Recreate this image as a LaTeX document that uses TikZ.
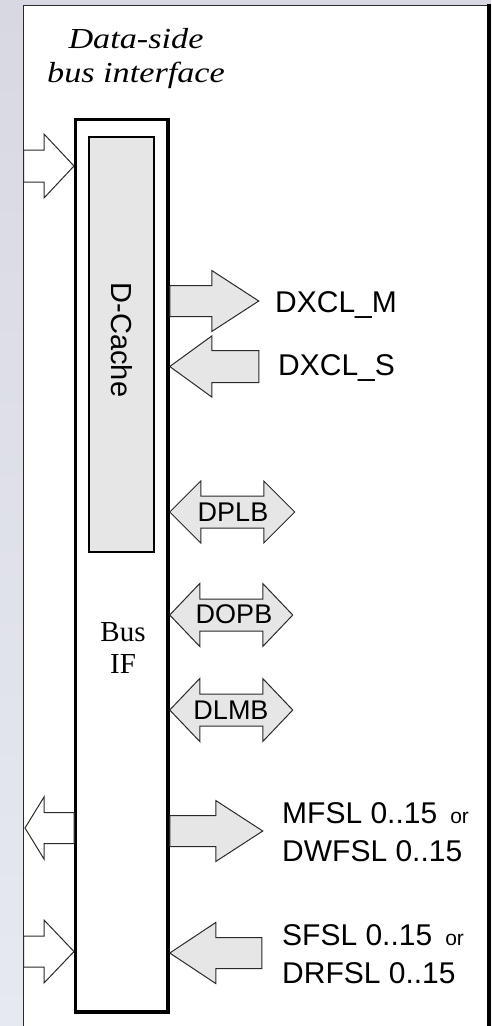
\documentclass[tikz,border=0pt]{standalone}
\usepackage{fontspec}
\setmainfont{Liberation Serif}
\setsansfont{Liberation Sans}
\usepackage{graphicx}
\definecolor{backdrop}{HTML}{D8D8E3}
\definecolor{backdroplow}{HTML}{E6E9EF}
\definecolor{busfill}{HTML}{E6E6E6}
\definecolor{edge}{HTML}{2A2A2A}
\tikzset{
  arrowline/.style={draw=edge, line width=1pt, line join=miter},
  busarrow/.style={arrowline, fill=busfill},
  portarrow/.style={arrowline, fill=white},
  % right-pointing block arrow: shaft length, tip distance, shaft half height, head half height
  pics/rarrow/.style n args={4}{code={
    \path[pic actions] (0,-#3) -- (#1,-#3) -- (#1,-#4) -- (#2,0) -- (#1,#4) -- (#1,#3) -- (0,#3) -- cycle;}},
  % left-pointing block arrow with its tip at the origin
  pics/larrow/.style n args={4}{code={
    \path[pic actions] (0,0) -- (#1,-#4) -- (#1,-#3) -- (#2,-#3) -- (#2,#3) -- (#1,#3) -- (#1,#4) -- cycle;}},
  % double-headed block arrow: total length, head length, shaft half height, head half height
  pics/darrow/.style n args={4}{code={
    \path[pic actions] (0,0) -- (#2,-#4) -- (#2,-#3) -- (#1-#2,-#3) -- (#1-#2,-#4) -- (#1,0)
      -- (#1-#2,#4) -- (#1-#2,#3) -- (#2,#3) -- (#2,#4) -- cycle;}},
  portlabel/.style={font=\sffamily\fontsize{30}{36}\selectfont, inner sep=0pt, anchor=base west},
  buslabel/.style={font=\sffamily\fontsize{27}{30}\selectfont, inner sep=0pt, anchor=base},
  titletext/.style={font=\itshape\fontsize{29}{34}\selectfont, inner sep=0pt, anchor=base},
}
\newcommand{\orword}{\hspace{13pt}{\fontsize{21}{21}\selectfont or}}
\begin{document}
\begin{tikzpicture}[x=1pt, y=-1pt]
  \useasboundingbox (0,0) rectangle (491,1026);
  % backdrop and white panel
  \shade[top color=backdrop, bottom color=backdroplow] (0,0) rectangle (491,1026);
  \fill[white] (23.5,5.5) rectangle (489,1030);

  % processor bus interface block and data cache
  \node[draw=black, line width=3.5pt, fill=white, minimum width=92.5pt, minimum height=892.5pt,
        inner sep=0pt] (bus) at (121.75,565.75) {};
  \node[draw=black, line width=1.2pt, fill=busfill, minimum width=65pt, minimum height=415pt,
        inner sep=0pt] (dcache) at (121.5,344.5) {};
  \node[rotate=-90, font=\sffamily\fontsize{29}{30}\selectfont, inner sep=0pt] (dcachetext)
        at (122,340) {D-Cache};
  \node[align=center, font=\fontsize{29}{32}\selectfont, inner sep=0pt, anchor=base] (busif)
        at (123,673) {Bus\\IF};

  % title
  \node[titletext] (title1) at (136,48) {\scalebox{1.18}[1]{Data-side}};
  \node[titletext] (title2) at (136,82) {\scalebox{1.18}[1]{bus interface}};

  % ports on the left edge
  \pic[portarrow] at (23.5,166) {rarrow={20.5}{50.5}{16}{32}};
  \pic[portarrow] at (25,828) {larrow={19}{49}{15.5}{31}};
  \pic[portarrow] at (23.5,951.5) {rarrow={20.5}{50.5}{15.5}{31.5}};

  % cache link
  \pic[busarrow] at (bus.east |- 0,301) {rarrow={42}{89}{15.5}{30.5}};
  \pic[busarrow] at (bus.east |- 0,366.5) {larrow={42}{89}{16}{30.5}};
  \node[portlabel] (dxclm) at (275,312) {DXCL\_M};
  \node[portlabel] (dxcls) at (278,375) {DXCL\_S};

  % bidirectional buses
  \pic[busarrow] at (bus.east |- 0,512) {darrow={125}{31}{16}{31}};
  \pic[busarrow] at (bus.east |- 0,615) {darrow={123}{30}{16}{31.5}};
  \pic[busarrow] at (bus.east |- 0,710) {darrow={123}{30}{16}{31.5}};
  \node[buslabel] (dplb) at (233,521) {DPLB};
  \node[buslabel] (dopb) at (234,623) {DOPB};
  \node[buslabel] (dlmb) at (231,719) {DLMB};

  % fast simplex links
  \pic[busarrow] at (bus.east |- 0,831) {rarrow={46}{93}{15.5}{30.5}};
  \pic[busarrow] at (bus.east |- 0,953) {larrow={46}{92}{15.5}{30.5}};
  \node[portlabel] (mfsl) at (282,823) {MFSL 0..15\orword};
  \node[portlabel] (dwfsl) at (282,861) {DWFSL 0..15};
  \node[portlabel] (sfsl) at (282,945) {SFSL 0..15\orword};
  \node[portlabel] (drfsl) at (282,983) {DRFSL 0..15};

  % panel border, open at the bottom
  \draw[line width=1.5pt, edge] (23.5,1030) -- (23.5,5.5) -- (487,5.5);
  \draw[line width=4pt, black] (489,4) -- (489,1030);
\end{tikzpicture}
\end{document}
